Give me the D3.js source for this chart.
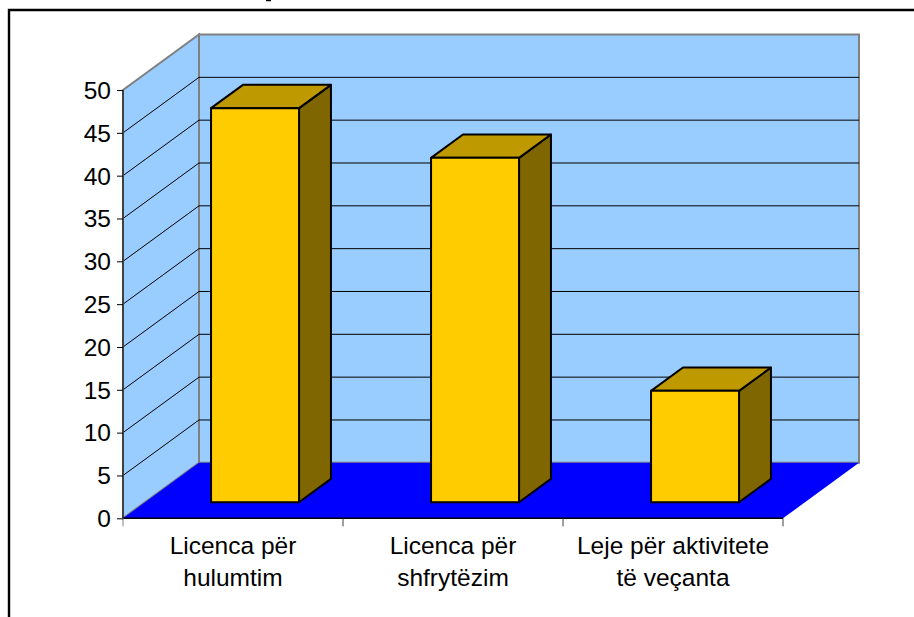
<!DOCTYPE html>
<html><head><meta charset="utf-8">
<script src="https://cdn.jsdelivr.net/npm/d3@7"></script>
<style>html,body{margin:0;padding:0;background:#fff}svg{display:block}text{font-family:"Liberation Sans",Arial,sans-serif;fill:#000}</style>
</head><body><svg id="c" width="914" height="617"></svg>
<script>
const categories = [["Licenca për","hulumtim"],["Licenca për","shfrytëzim"],["Leje për aktivitete","të veçanta"]];
const values = [46, 40.2, 13];
const yTicks = [0,5,10,15,20,25,30,35,40,45,50];

const svg = d3.select("#c");
const x = d3.scaleBand().domain(d3.range(categories.length)).range([123,783]);
const y = d3.scaleLinear().domain([0,50]).range([518.3,90]);
const depthX = 76, depthY = 55.5;
const barFront = 0.29, barDepth = 0.42, barFrac = 0.4;
const P = (px,py,d)=>[px+depthX*d, py-depthY*d];
const line = d3.line();
const poly = pts => line(pts)+"Z";
const wall="#99CCFF", floor="#0000FF", bar="#FFCC00", barTop="#BF9900", barSide="#806600", gray="#808080";

// frame
svg.append("path").attr("d","M9,617V10H914").attr("fill","none").attr("stroke","#000").attr("stroke-width",2.4);
// clipped title remnant
svg.append("path").attr("d","M266,0.5H271").attr("stroke","#000").attr("stroke-width",1.5);

const L=x.range()[0], R=x.range()[1], y0=y(0), yT=y(50);
// walls
svg.append("path").attr("d",poly([P(L,y0,1),P(R,y0,1),P(R,yT,1),P(L,yT,1)])).attr("fill",wall).attr("stroke",gray).attr("stroke-width",2);
svg.append("path").attr("d",poly([P(L,y0,0),P(L,y0,1),P(L,yT,1),P(L,yT,0)])).attr("fill",wall).attr("stroke",gray).attr("stroke-width",2);
// floor
svg.append("path").attr("d",poly([P(L,y0,0),P(R,y0,0),P(R,y0,1),P(L,y0,1)])).attr("fill",floor);
// gridlines
svg.append("g").selectAll("path").data(yTicks.filter(t=>t>0&&t<50)).join("path")
  .attr("d",t=>line([P(L,y(t),0),P(L,y(t),1),P(R,y(t),1)]))
  .attr("fill","none").attr("stroke","#000").attr("stroke-width",1);
// bars
const bars = svg.append("g").attr("stroke","#000").attr("stroke-width",2).attr("stroke-linejoin","round");
values.forEach((v,i)=>{
  const w=x.bandwidth()*barFrac, a=x(i)+(x.bandwidth()-w)/2, b=a+w, t=y(v);
  const f=barFront, k=barFront+barDepth;
  bars.append("path").attr("d",poly([P(b,y0,f),P(b,y0,k),P(b,t,k),P(b,t,f)])).attr("fill",barSide);
  bars.append("path").attr("d",poly([P(a,t,f),P(b,t,f),P(b,t,k),P(a,t,k)])).attr("fill",barTop);
  bars.append("path").attr("d",poly([P(a,y0,f),P(b,y0,f),P(b,t,f),P(a,t,f)])).attr("fill",bar);
});
// axes
const yAxis = svg.append("g").attr("transform",`translate(${L},0)`).call(d3.axisLeft(y).tickValues(yTicks).tickSize(6).tickPadding(6));
yAxis.select(".domain").attr("stroke","#404040").attr("stroke-width",2).attr("d",`M0,${y0}V${yT}`);
yAxis.selectAll("line").attr("stroke","#000");
yAxis.selectAll("text").attr("font-size",24.5).attr("font-family",null).attr("fill","#000").attr("dy","0.34em");
svg.append("path").attr("d",`M${L},${y0}H${R}`).attr("stroke","#000").attr("stroke-width",1.5);
svg.append("g").selectAll("line").data(d3.range(categories.length+1)).join("line")
  .attr("x1",i=>L+x.step()*i).attr("x2",i=>L+x.step()*i).attr("y1",y0).attr("y2",y0+8)
  .attr("stroke",(d,i)=>i==0?"#808080":"#404040").attr("stroke-width",1);
// category labels
categories.forEach((ls,i)=>ls.forEach((s,j)=>{
  svg.append("text").attr("x",x(i)+x.bandwidth()/2).attr("y",554+j*32).attr("text-anchor","middle").attr("font-size",24.5).text(s);
}));
</script></body></html>
